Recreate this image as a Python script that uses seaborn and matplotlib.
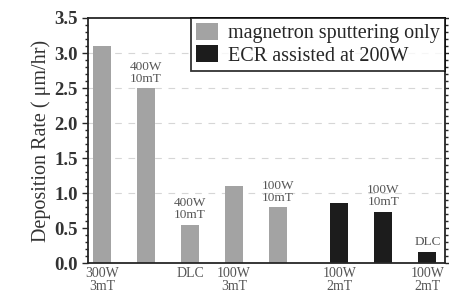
import pandas as pd
import matplotlib.pyplot as plt
import seaborn as sns
from matplotlib.ticker import MultipleLocator

# bar positions (gap between the two groups) and values
positions = [0, 1, 2, 3, 4, 5.4, 6.4, 7.4]
rates = [3.1, 2.5, 0.55, 1.1, 0.8, 0.86, 0.73, 0.16]
methods = ["magnetron sputtering only"] * 5 + ["ECR assisted at 200W"] * 3
top_labels = ["", "400W\n10mT", "400W\n10mT", "", "100W\n10mT", "", "100W\n10mT", "DLC"]
tick_pos = [0, 2, 3, 5.4, 7.4]
tick_labels = ["300W\n3mT", "DLC", "100W\n3mT", "100W\n2mT", "100W\n2mT"]

df = pd.DataFrame({"pos": positions, "rate": rates, "method": methods})

sns.set_style("ticks")
plt.rcParams['font.family'] = ['Liberation Serif', 'DejaVu Serif']

fig = plt.figure(figsize=(4.49, 3.0), dpi=100)
ax = fig.add_axes([0.196, 0.123, 0.795, 0.817])

palette = {"magnetron sputtering only": "#a3a3a3", "ECR assisted at 200W": "#1c1c1c"}
sns.barplot(data=df, x="pos", y="rate", hue="method", palette=palette,
            native_scale=True, dodge=False, width=0.41, ax=ax,
            edgecolor="none", saturation=1)

# faint dashed grid like the scan
for yv in [1.0, 1.5, 2.0, 2.5, 3.0]:
    ax.axhline(yv, color="#d6d6d6", lw=0.8, ls=(0, (6, 6)), zorder=0)

# labels above bars
for x, r, t in zip(positions, rates, top_labels):
    if t:
        ax.text(x, r + 0.05, t, ha="center", va="bottom", fontsize=9.5,
                color="#555555", linespacing=1.0)

ax.set_xlim(-0.32, 7.8)
ax.set_ylim(0, 3.5)
ax.yaxis.set_major_locator(MultipleLocator(0.5))
ax.yaxis.set_minor_locator(MultipleLocator(0.1))
ax.yaxis.set_major_formatter(plt.FormatStrFormatter("%.1f"))
ax.set_xticks(tick_pos)
ax.set_xticklabels(tick_labels, fontsize=10, color="#555555", linespacing=1.0)
ax.tick_params(axis="x", length=0, pad=3)
ax.tick_params(axis="y", which="both", right=True, direction="out",
               labelsize=13.5, width=1, labelcolor="#333333")
ax.tick_params(axis="y", which="minor", length=2)
ax.tick_params(axis="y", which="major", length=4)
for lab in ax.get_yticklabels():
    lab.set_fontweight("bold")
for s in ax.spines.values():
    s.set_linewidth(1.3)
    s.set_visible(True)

ax.set_xlabel("")
ax.set_ylabel("Deposition Rate ( μm/hr)", fontsize=14.5, color="#333333",
              labelpad=2)

leg = ax.legend(loc="upper right", bbox_to_anchor=(1.0, 1.0), fontsize=14.5,
                frameon=True, fancybox=False, edgecolor="black",
                borderaxespad=0, handlelength=1.1, handleheight=0.9,
                handletextpad=0.5, borderpad=0.25, labelspacing=0.1)
leg.get_frame().set_linewidth(1.3)
leg.set_title(None)

fig.savefig("out.png", dpi=100)
